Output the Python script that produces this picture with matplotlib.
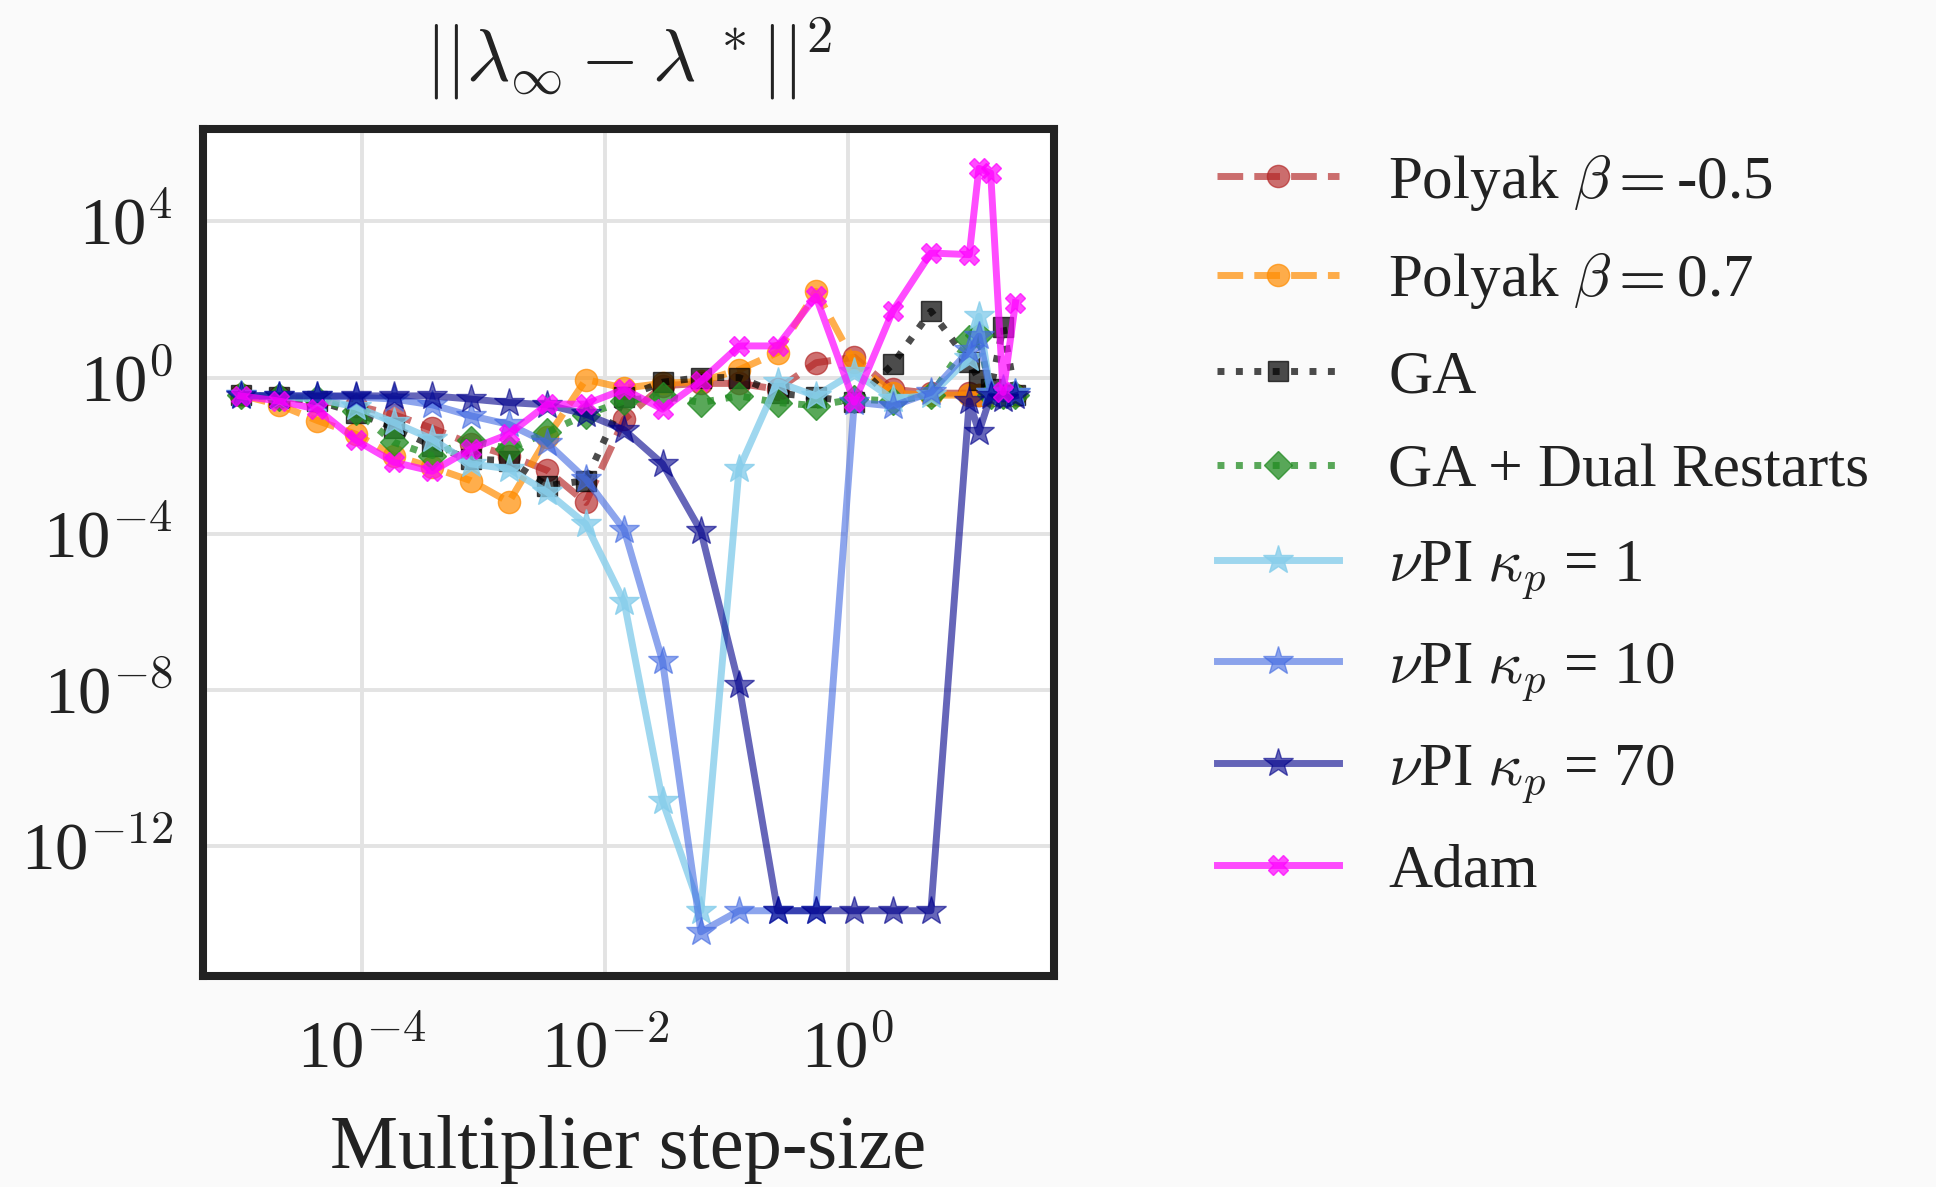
import numpy as np
import matplotlib
matplotlib.use("Agg")
import matplotlib.pyplot as plt
from matplotlib.ticker import FixedLocator, FuncFormatter, NullLocator

plt.rcParams['font.family'] = ['Liberation Serif', 'DejaVu Serif']
plt.rcParams['mathtext.fontset'] = 'cm'

# step sizes
step_sizes = [1.0e-5, 2.07e-5, 4.28e-5, 8.86e-5, 1.83e-4, 3.79e-4, 7.85e-4, 1.62e-3,
              3.36e-3, 6.95e-3, 1.44e-2, 2.98e-2, 6.16e-2, 1.27e-1, 2.64e-1, 5.46e-1,
              1.13, 2.34, 4.83, 10.0, 12.0, 15.0, 19.0, 24.0]

polyak_neg = [3.55e-1, 3.16e-1, 2.51e-1, 1.91e-1, 1.12e-1, 5.01e-2, 2.0e-2, 1.0e-2,
              4.17e-3, 6.31e-4, 8.51e-2, 6.17e-1, 7.08e-1, 7.08e-1, 5.01e-1, 2.40,
              3.31, 5.01e-1, 3.98e-1, 3.98e-1, 3.55e-1, 3.55e-1, 3.55e-1, 3.55e-1]
polyak_pos = [3.55e-1, 2.0e-1, 7.94e-2, 3.55e-2, 1.0e-2, 5.01e-3, 2.29e-3, 6.46e-4,
              2.95e-2, 8.91e-1, 5.37e-1, 7.08e-1, 7.94e-1, 1.58, 4.37, 1.62e2,
              2.51, 3.98e-1, 3.55e-1, 3.55e-1, 3.55e-1, 3.55e-1, 3.55e-1, 3.55e-1]
ga = [3.55e-1, 3.16e-1, 2.51e-1, 1.26e-1, 5.25e-2, 1.78e-2, 8.13e-3, 7.41e-3,
      1.70e-3, 2.29e-3, 3.16e-1, 7.59e-1, 1.0, 1.0, 3.98e-1, 3.16e-1,
      2.34e-1, 2.19, 5.01e1, 2.51, 8.91e-1, 5.01e-1, 2.0e1, 3.55e-1]
ga_dr = [3.55e-1, 3.16e-1, 2.82e-1, 1.41e-1, 2.19e-2, 1.0e-2, 2.51e-2, 1.48e-2,
         3.98e-2, 1.12e-1, 2.51e-1, 3.39e-1, 2.29e-1, 3.39e-1, 2.29e-1, 1.91e-1,
         2.82e-1, 2.51e-1, 3.55e-1, 9.55, 1.26e1, 3.55e-1, 3.55e-1, 3.55e-1]
npi_1 = [3.55e-1, 3.16e-1, 2.82e-1, 1.78e-1, 7.08e-2, 2.63e-2, 6.17e-3, 4.57e-3,
         1.15e-3, 1.78e-4, 1.78e-6, 1.41e-11, 2.19e-14, 4.57e-3, 7.59e-1, 3.39e-1,
         1.35, 2.82e-1, 3.55e-1, 3.16, 3.72e1, 3.98e-1, 3.98e-1, 3.98e-1]
npi_10 = [3.55e-1, 3.39e-1, 3.39e-1, 3.16e-1, 2.82e-1, 2.0e-1, 1.05e-1, 6.31e-2,
          2.09e-2, 2.51e-3, 1.26e-4, 5.37e-8, 6.31e-15, 2.19e-14, 2.19e-14, 2.19e-14,
          2.34e-1, 1.86e-1, 4.17e-1, 5.01, 1.15e1, 3.98e-1, 5.01e-1, 3.98e-1]
npi_70 = [3.39e-1, 3.39e-1, 3.39e-1, 3.39e-1, 3.39e-1, 3.39e-1, 2.82e-1, 2.29e-1,
          2.0e-1, 1.15e-1, 4.57e-2, 6.17e-3, 1.17e-4, 1.32e-8, 2.19e-14, 2.19e-14,
          2.19e-14, 2.19e-14, 2.19e-14, 2.51e-1, 3.98e-2, 3.39e-1, 2.82e-1, 3.39e-1]
adam = [3.39e-1, 2.51e-1, 1.55e-1, 2.51e-2, 6.76e-3, 3.98e-3, 1.48e-2, 3.55e-2,
        2.09e-1, 2.09e-1, 5.01e-1, 1.55e-1, 8.13e-1, 6.46, 6.46, 1.20e2,
        2.34e-1, 5.01e1, 1.55e3, 1.41e3, 2.29e5, 1.74e5, 4.17e-1, 8.32e1]

labels = [r'Polyak $\beta=$-0.5', r'Polyak $\beta=$0.7', 'GA', 'GA + Dual Restarts',
          r'$\nu$PI $\kappa_p$ = 1', r'$\nu$PI $\kappa_p$ = 10', r'$\nu$PI $\kappa_p$ = 70', 'Adam']
series = [polyak_neg, polyak_pos, ga, ga_dr, npi_1, npi_10, npi_70, adam]
colors = ['firebrick', 'darkorange', 'black', 'forestgreen', 'skyblue', 'royalblue', 'darkblue', 'magenta']
alphas = [0.65, 0.7, 0.7, 0.75, 0.8, 0.6, 0.6, 0.7]
styles = ['--', '--', ':', ':', '-', '-', '-', '-']
markers = ['o', 'o', 's', 'D', '*', '*', '*', 'X']
msizes = [16, 16, 15, 14, 22, 22, 22, 15]

x_ticks = [1e-4, 1e-2, 1e0]
y_ticks = [1e-12, 1e-8, 1e-4, 1e0, 1e4]

fig = plt.figure(figsize=(19.36, 11.87), dpi=100, facecolor='#fafafa')
ax = fig.add_axes([0.1051, 0.1778, 0.4391, 0.7136])
ax.set_facecolor('white')

for y, lab, c, a, ls, m, ms in zip(series, labels, colors, alphas, styles, markers, msizes):
    ax.plot(step_sizes, y, linestyle=ls, marker=m, color=c, alpha=a, lw=5.0,
            markersize=ms, markeredgecolor=c, label=lab)

ax.set_xscale('log')
ax.set_yscale('log')
ax.set_xlim(10**-5.306, 10**1.694)
ax.set_ylim(10**-15.33, 10**6.37)

ax.xaxis.set_major_locator(FixedLocator(x_ticks))
ax.yaxis.set_major_locator(FixedLocator(y_ticks))
ax.xaxis.set_minor_locator(NullLocator())
ax.yaxis.set_minor_locator(NullLocator())
fmt = FuncFormatter(lambda v, p: r'10$^{%d}$' % int(round(np.log10(v))))
ax.xaxis.set_major_formatter(fmt)
ax.yaxis.set_major_formatter(fmt)
ax.tick_params(axis='both', length=0, labelsize=48, colors='#222222')
ax.tick_params(axis='x', pad=32)
ax.tick_params(axis='y', pad=22)

ax.grid(True, color='#e3e3e3', lw=2.8)
ax.set_axisbelow(True)
for s in ax.spines.values():
    s.set_linewidth(5.8)
    s.set_color('#222222')

ax.set_xlabel('Multiplier step-size', fontsize=55, color='#222222', labelpad=24)
ax.set_title(r'$||\lambda_\infty - \lambda^{\,*}||^2$', fontsize=54, color='#222222', pad=34)

leg = fig.legend(loc='center left', bbox_to_anchor=(0.616, 0.557), frameon=False,
                 fontsize=44, handlelength=2.0, handletextpad=0.8, labelspacing=0.63,
                 numpoints=1, borderaxespad=0)
for t in leg.get_texts():
    t.set_color('#222222')

fig.savefig('out.png', dpi=100, facecolor=fig.get_facecolor())
